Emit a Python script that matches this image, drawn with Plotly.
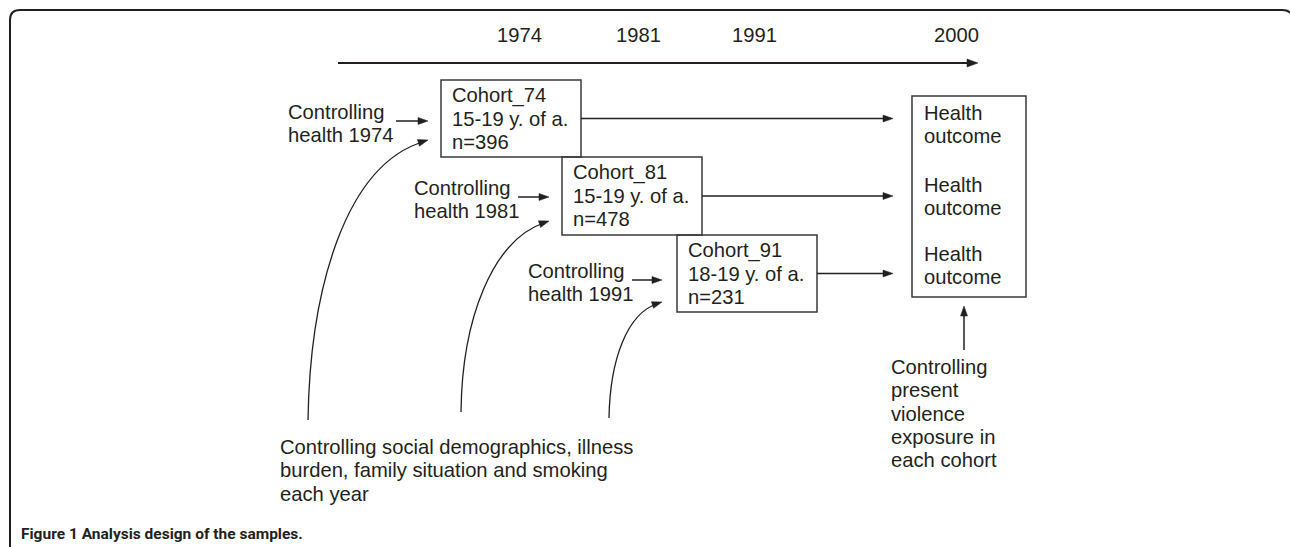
import math
import plotly.graph_objects as go

# ---------------- content ----------------
years = ["1974", "1981", "1991", "2000"]
cohort_names = ["Cohort_74", "Cohort_81", "Cohort_91"]
cohort_ages = ["15-19 y. of a.", "15-19 y. of a.", "18-19 y. of a."]
cohort_n = [396, 478, 231]
control_health = [["Controlling", "health 1974"], ["Controlling", "health 1981"], ["Controlling", "health 1991"]]
outcome_lines = ["Health", "outcome"]
present_lines = ["Controlling", "present", "violence", "exposure in", "each cohort"]
social_lines = ["Controlling social demographics, illness",
                "burden, family situation and smoking",
                "each year"]
caption = "<b>Figure 1</b> <b>Analysis design of the samples.</b>"

# ---------------- geometry (pixel layout) ----------------
W, H = 1290, 547
INK = "#231f20"
BOX = "#3a3a3a"
FONT = "Liberation Sans, Arial, sans-serif"
FS = 20.2
LS = 23.3  # line spacing

year_x = [519, 638, 754, 956]
year_y = 35
timeline = (338, 978, 63)

boxes = [(441, 581, 80, 157), (562, 702, 157, 235), (677, 817, 235, 312)]
outcome_box = (912, 1026, 96, 297)
outcome_text_y = [113, 185, 254]
arrow_tip_x = 893
ctrl_text = [(286, 112), (412, 188), (526, 271)]
ctrl_arrow = [(396, 428, 121), (518, 549, 197), (632, 662, 280)]
curves = [((308, 420), (310, 290), (345, 165), (428, 140)),
          ((461, 412), (462, 320), (492, 240), (549, 221)),
          ((609, 418), (610, 360), (627, 313), (662, 302))]

shapes = []
annotations = []


def line(x0, y0, x1, y1, w=1.5, color=INK):
    shapes.append(dict(type="line", xref="x", yref="y", x0=x0, y0=y0, x1=x1, y1=y1,
                       line=dict(color=color, width=w)))


def head(tip, d, length=10, width=7, color=INK):
    dx, dy = d
    n = math.hypot(dx, dy)
    ux, uy = dx / n, dy / n
    px, py = -uy, ux
    bx, by = tip[0] - ux * length, tip[1] - uy * length
    p1 = (bx + px * width / 2, by + py * width / 2)
    p2 = (bx - px * width / 2, by - py * width / 2)
    shapes.append(dict(type="path", xref="x", yref="y",
                       path=f"M {tip[0]},{tip[1]} L {p1[0]},{p1[1]} L {p2[0]},{p2[1]} Z",
                       fillcolor=color, line=dict(color=color, width=0.5)))


def arrow(x0, y0, x1, y1, w=1.5, length=10, width=7):
    dx, dy = x1 - x0, y1 - y0
    n = math.hypot(dx, dy)
    ex, ey = x1 - dx / n * (length - 1), y1 - dy / n * (length - 1)
    line(x0, y0, ex, ey, w)
    head((x1, y1), (dx, dy), length, width)


def text(x, y, s, size=FS, anchor="left", color=INK, family=FONT):
    annotations.append(dict(x=x, y=y, xref="x", yref="y", text=s, showarrow=False,
                            xanchor=anchor, yanchor="middle",
                            font=dict(family=family, size=size, color=color)))


def rect(b, color=BOX):
    x0, x1, y0, y1 = b
    shapes.append(dict(type="rect", xref="x", yref="y", x0=x0, x1=x1, y0=y0, y1=y1,
                       line=dict(color=color, width=1.5), fillcolor="rgba(0,0,0,0)"))


# frame
shapes.append(dict(type="path", xref="x", yref="y",
                   path="M 10,547 L 10,20 Q 10,10 20,10 L 1282,10 Q 1288,10 1290,13",
                   line=dict(color=INK, width=2)))

# timeline
for yx, yr in zip(year_x, years):
    text(yx, year_y, yr, anchor="center")
arrow(timeline[0], timeline[2], timeline[1], timeline[2], w=1.8, length=11, width=8)

# cohort boxes
for b, nm, ag, n in zip(boxes, cohort_names, cohort_ages, cohort_n):
    rect(b)
    x0, x1, y0, y1 = b
    cy = (y0 + y1) / 2
    for i, s in enumerate([nm, ag, f"n={n}"]):
        text(x0 + 9, cy + (i - 1) * LS, s)
    arrow(x1, cy, arrow_tip_x, cy)

# outcome box
rect(outcome_box)
for ty in outcome_text_y:
    for i, s in enumerate(outcome_lines):
        text(outcome_box[0] + 10, ty + i * LS, s)

# controlling health texts and arrows
for (tx, ty), lines_, (ax0, ax1, ay) in zip(ctrl_text, control_health, ctrl_arrow):
    for i, s in enumerate(lines_):
        text(tx, ty + i * LS, s)
    arrow(ax0, ay, ax1, ay)

# curved arrows
for p0, p1, p2, p3 in curves:
    shapes.append(dict(type="path", xref="x", yref="y",
                       path=f"M {p0[0]},{p0[1]} C {p1[0]},{p1[1]} {p2[0]},{p2[1]} {p3[0]-4},{p3[1]+1.5}",
                       line=dict(color=INK, width=1.3)))
    head(p3, (p3[0] - p2[0], p3[1] - p2[1]))

# present violence
arrow(964, 350, 964, 306)
for i, s in enumerate(present_lines):
    text(889, 367 + i * LS, s)

# social demographics
for i, s in enumerate(social_lines):
    text(278, 447 + i * LS, s)

# caption
text(19, 534, caption, size=15.5, color=INK,
     family="Roboto, Liberation Sans, sans-serif")

fig = go.Figure()
fig.update_layout(
    width=W, height=H,
    margin=dict(l=0, r=0, t=0, b=0),
    paper_bgcolor="white", plot_bgcolor="white",
    xaxis=dict(range=[0, W], visible=False, fixedrange=True),
    yaxis=dict(range=[H, 0], visible=False, fixedrange=True),
    shapes=shapes, annotations=annotations, showlegend=False,
)
fig.write_html("out.html", config={"displayModeBar": False},
               post_script="document.body.style.margin='0';document.body.style.overflow='hidden';")
